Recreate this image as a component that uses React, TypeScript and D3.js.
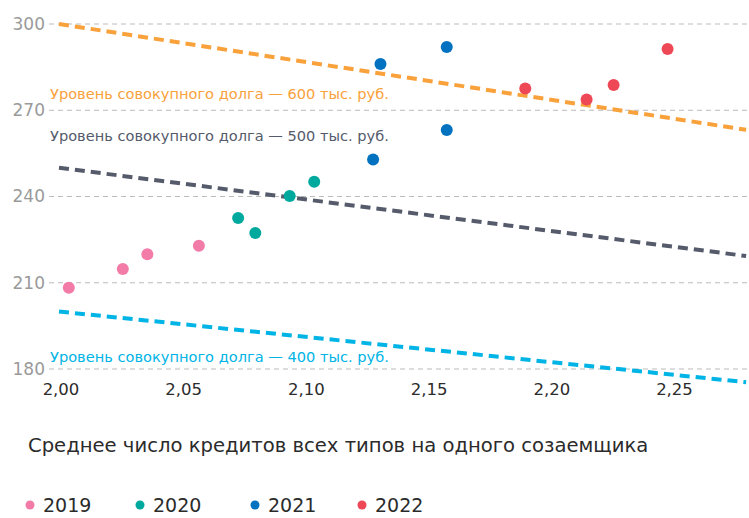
import * as React from 'react';
import * as d3 from 'd3';

// years and scatter points (x = avg number of loans, y = value)
const years = ['2019', '2020', '2021', '2022'];
const yearColors = ['#F27BA8', '#00A99D', '#0072C0', '#EE4857'];

const xs2019 = [2.004, 2.026, 2.036, 2.057];
const ys2019 = [208.3, 214.8, 219.9, 222.9];
const xs2020 = [2.073, 2.080, 2.094, 2.104];
const ys2020 = [232.5, 227.3, 240.2, 245.1];
const xs2021 = [2.128, 2.131, 2.158, 2.158];
const ys2021 = [252.9, 286.1, 292.0, 263.1];
const xs2022 = [2.190, 2.215, 2.226, 2.248];
const ys2022 = [277.6, 273.7, 278.8, 291.3];

const seriesX = [xs2019, xs2020, xs2021, xs2022];
const seriesY = [ys2019, ys2020, ys2021, ys2022];

// debt level lines (start / end points)
const levelNames = [
    'Уровень совокупного долга — 600 тыс. руб.',
    'Уровень совокупного долга — 500 тыс. руб.',
    'Уровень совокупного долга — 400 тыс. руб.'
];
const levelColors = ['#F9A13B', '#555B6B', '#00B4E6'];
const levelX = [2.0, 2.28];
const levelStart = [300, 250, 200];
const levelEnd = [263.2, 219.3, 175.4];
// where each label sits, in y units
const levelLabelAt = [275.8, 261.2, 184.1];

const yTicks = [180, 210, 240, 270, 300];
const xTicks = [2.0, 2.05, 2.1, 2.15, 2.2, 2.25];

const xTitle = 'Среднее число кредитов всех типов на одного созаемщика';

const font = '"DejaVu Sans", sans-serif';

function App() {
    const width = 749;
    const height = 518;

    const x = d3.scaleLinear().domain([2.0, 2.28]).range([59, 59 + 0.28 * 2454]);
    const y = d3.scaleLinear().domain([180, 300]).range([369, 24]);

    const line = d3.line<[number, number]>()
        .x(d => x(d[0]))
        .y(d => y(d[1]));

    const fmt = (v: number) => d3.format('.2f')(v).replace('.', ',');

    return (
        <div style={{ position: 'absolute', left: 0, top: 0 }}>
            <svg width={width} height={height} style={{ display: 'block', fontFamily: font }}>
                <g>
                    {yTicks.map(t => (
                        <g key={t}>
                            <line x1={49} x2={width} y1={y(t)} y2={y(t)}
                                stroke="#BBBBBB" strokeWidth={1} strokeDasharray="5,4" />
                            <text x={45} y={y(t)} dy="0.35em" textAnchor="end"
                                fontSize={17} fill="#9A9A9A">{t}</text>
                        </g>
                    ))}
                </g>
                <g>
                    {xTicks.map(t => (
                        <text key={t} x={x(t) + 2} y={389} dy="0.35em" textAnchor="middle"
                            fontSize={16.5} fill="#2B2B2B">{fmt(t)}</text>
                    ))}
                </g>
                <g>
                    {levelNames.map((name, i) => (
                        <g key={name}>
                            <path d={line([[levelX[0], levelStart[i]], [levelX[1], levelEnd[i]]]) || ''}
                                fill="none" stroke={levelColors[i]} strokeWidth={4}
                                strokeDasharray="10,6" />
                            <text x={50} y={y(levelLabelAt[i])} dy="0.35em" fontSize={14.6}
                                fill={levelColors[i]}>{name}</text>
                        </g>
                    ))}
                </g>
                <g>
                    {seriesX.map((xsArr, si) => xsArr.map((xv, j) => (
                        <circle key={si + '-' + j} cx={x(xv)} cy={y(seriesY[si][j])} r={6}
                            fill={yearColors[si]} />
                    )))}
                </g>
                <text x={28} y={445} dy="0.35em" fontSize={19.6} fill="#2B2B2B">{xTitle}</text>
                <g>
                    {years.map((yr, i) => {
                        const lx = [30, 140, 255, 362][i];
                        return (
                            <g key={yr} transform={'translate(' + lx + ',505)'}>
                                <circle r={4.5} fill={yearColors[i]} />
                                <text x={13} dy="0.35em" fontSize={19} fill="#2B2B2B">{yr}</text>
                            </g>
                        );
                    })}
                </g>
            </svg>
        </div>
    );
}

export default App;
